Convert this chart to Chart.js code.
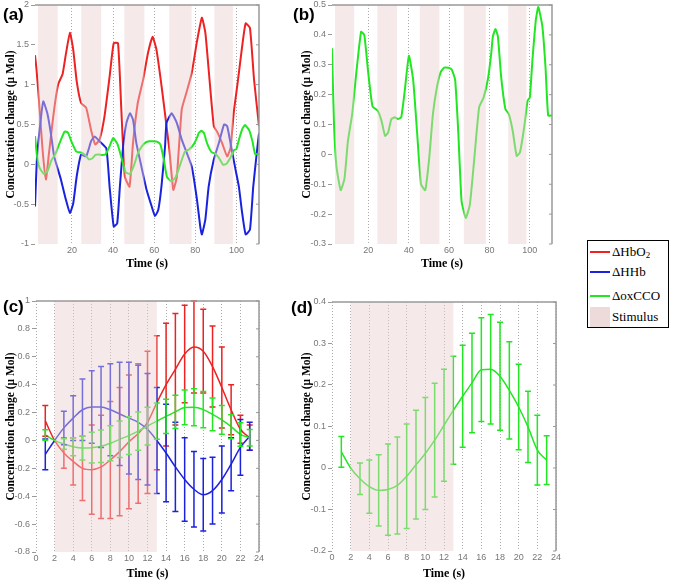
<!DOCTYPE html>
<html>
<head>
<meta charset="utf-8">
<script src="https://cdn.jsdelivr.net/npm/chart.js@4.4.1/dist/chart.umd.min.js"></script>
<style>
  body { margin: 0; background: #fff; width: 675px; height: 582px; position: relative; overflow: hidden; }
  canvas { position: absolute; }
  .lab { position: absolute; font: bold 17px "Liberation Sans", Arial, sans-serif; color: #000; }
  #legend { position: absolute; left: 587px; top: 240px; width: 80px; height: 86px; border: 1px solid #000; background: #fff;
            font: 13px "Liberation Serif", "Times New Roman", serif; color: #000; }
  .row { position: absolute; left: 2px; height: 20px; display: flex; align-items: center; white-space: nowrap; }
  .sw { width: 20px; height: 2px; margin-right: 2px; }
  .row sub { font-size: 9px; position: relative; top: 3px; vertical-align: baseline; }
</style>
</head>
<body>
<canvas id="ca" width="270" height="275" style="left:0;top:0"></canvas>
<canvas id="cb" width="270" height="275" style="left:296px;top:0"></canvas>
<canvas id="cc" width="275" height="292" style="left:0;top:290px"></canvas>
<canvas id="cd" width="275" height="292" style="left:296px;top:290px"></canvas>

<div class="lab" style="left:3px;top:5px">(a)</div>
<div class="lab" style="left:293px;top:5px">(b)</div>
<div class="lab" style="left:3px;top:297px">(c)</div>
<div class="lab" style="left:291px;top:298px">(d)</div>

<div id="legend">
  <div class="row" style="top:1px"><span class="sw" style="background:#ee2222"></span>ΔHbO<sub>2</sub></div>
  <div class="row" style="top:21px"><span class="sw" style="background:#1a22dd"></span>ΔHHb</div>
  <div class="row" style="top:45px"><span class="sw" style="background:#22e622"></span>ΔoxCCO</div>
  <div class="row" style="top:66px"><span class="sw" style="background:#eddada;height:20px"></span>Stimulus</div>
</div>

<script>
// stimulus blocks (s)
const blockStart = [3.5, 24.5, 45.5, 67.3, 89.3];
const blockEnd = [13, 34.2, 55.2, 78.2, 98.3];
const avgStart = [2];
const avgEnd = [13];
const runTicks = [20, 40, 60, 80, 100];

// (a) single subject time courses
const hbo2Time = [2, 2.7, 3.7, 5.7, 7.3, 8.8, 10.5, 12.2, 13.5, 15.4, 17, 19, 20.6, 22.3, 24.4, 26.9, 29.3, 31.3, 33.4, 35.8,
  38.3, 40.3, 42.4, 44, 45.7, 48, 49.7, 52, 54.6, 57, 59.2, 61.1, 63.6, 66, 67.4, 69.3, 71, 73.4, 75.9, 78.3,
  80.8, 83.2, 84.9, 86.5, 89, 90.6, 93, 95.5, 97.1, 98.8, 100.7, 102.8, 104.5, 106.6, 108.6, 111];
const hbo2Values = [1.37, 1.2, 0.88, 0.18, -0.19, 0.14, 0.52, 0.85, 1.02, 1.13, 1.38, 1.65, 1.44, 1.04, 0.77, 0.71, 0.43, 0.25, 0.31, 0.6,
  1.1, 1.52, 1.52, 0.69, -0.15, -0.28, 0.27, 0.77, 1.06, 1.4, 1.6, 1.44, 0.98, 0.48, 0.18, -0.32, -0.16, 0.69, 0.92, 1.15,
  1.54, 1.84, 1.65, 1.19, 0.48, 0.41, 0.27, 0.1, 0.2, 0.67, 1.04, 1.48, 1.77, 1.71, 1.06, 0.48];

const hhbTime = [2, 3, 4.8, 6, 8, 9.7, 11.3, 13, 14.6, 17, 19, 20.6, 22.3, 24.4, 26.9, 29.3, 31, 33.4, 36.7, 38.3,
  40.3, 42, 43.3, 44.9, 46.5, 48.2, 49.7, 51.3, 53.8, 56.3, 58.8, 60.4, 62, 63.6, 65.3, 66, 68.5, 71, 73.4, 75.9,
  78.3, 80.8, 82.4, 83.2, 84.9, 86.5, 89, 91.5, 94, 95.5, 97.1, 99.6, 101.2, 102.8, 104.5, 106.6, 108.2, 109.9, 111];
const hhbValues = [-0.53, 0.1, 0.56, 0.79, 0.64, 0.39, 0.1, -0.05, -0.19, -0.44, -0.61, -0.49, -0.15, 0.12, 0.1, 0.29, 0.35, 0.29, 0.2, -0.28,
  -0.78, -0.74, -0.28, 0.23, 0.52, 0.64, 0.56, 0.27, -0.03, -0.32, -0.53, -0.65, -0.57, -0.26, 0.23, 0.52, 0.64, 0.52, 0.31, 0.14,
  -0.03, -0.44, -0.78, -0.88, -0.69, -0.28, 0.06, 0.27, 0.5, 0.48, 0.27, -0.07, -0.28, -0.61, -0.88, -0.82, -0.28, 0.14, 0.39];

const ccoTime = [2, 3, 4.2, 6.3, 8.2, 9.9, 12, 14, 16.4, 18, 20, 22.1, 24.6, 26.5, 28.3, 29.8, 31.4, 33, 34.7, 36.3,
  38, 40.1, 42.2, 44.2, 46.1, 48.2, 50.2, 52, 54, 55.9, 57.6, 59.7, 61.3, 63, 64.6, 66.2, 68.3, 70.3, 72.4, 74.9,
  77.1, 79.3, 80.9, 81.7, 83, 84.2, 85.8, 87.9, 89.6, 91.5, 93.5, 95.1, 97.2, 98.9, 100, 101.3, 103, 104.2, 106.2, 107.8, 109.1, 111];
const ccoValues = [0.355, 0.1, -0.04, -0.12, -0.08, 0.045, 0.135, 0.27, 0.41, 0.4, 0.27, 0.16, 0.147, 0.113, 0.062, 0.073, 0.118, 0.124, 0.118, 0.124,
  0.21, 0.33, 0.25, 0.07, -0.1, -0.12, -0.01, 0.135, 0.225, 0.276, 0.29, 0.29, 0.284, 0.25, 0.07, -0.157, -0.213, -0.168, -0.022, 0.158,
  0.19, 0.254, 0.338, 0.394, 0.42, 0.394, 0.26, 0.152, 0.135, 0.08, -0.005, 0.006, 0.09, 0.18, 0.19, 0.315, 0.45, 0.493, 0.43, 0.29, 0.13, 0.13];

// (c), (d) block averages with standard error
const avgTime = [1, 2, 3, 4, 5, 6, 7, 8, 9, 10, 11, 12, 13, 14, 15, 16, 17, 18, 19, 20, 21, 22, 23];
const hbo2Mean = [0.14, 0.0, -0.09, -0.15, -0.2, -0.21, -0.19, -0.14, -0.08, -0.01, 0.05, 0.13, 0.27, 0.4, 0.51, 0.62, 0.67, 0.64, 0.53, 0.38, 0.22, 0.08, 0.02];
const hbo2Err = [0.11, 0, 0.11, 0.17, 0.23, 0.32, 0.37, 0.42, 0.46, 0.48, 0.5, 0.51, 0.48, 0.44, 0.4, 0.35, 0.33, 0.3, 0.29, 0.29, 0.18, 0.1, 0.09];
const hhbMean = [-0.1, 0.0, 0.09, 0.16, 0.22, 0.24, 0.24, 0.22, 0.19, 0.16, 0.13, 0.08, 0.0, -0.09, -0.19, -0.28, -0.35, -0.39, -0.36, -0.28, -0.17, -0.05, 0.03];
const hhbErr = [0.11, 0, 0.12, 0.16, 0.22, 0.26, 0.29, 0.33, 0.37, 0.4, 0.41, 0.4, 0.38, 0.35, 0.32, 0.3, 0.27, 0.26, 0.24, 0.24, 0.19, 0.2, 0.1];
const ccoMean = [0.039, 0.0, -0.026, -0.045, -0.054, -0.052, -0.042, -0.02, 0.008, 0.035, 0.067, 0.103, 0.139, 0.173, 0.205, 0.237, 0.238, 0.221, 0.187, 0.147, 0.099, 0.043, 0.019];
const ccoErr = [0.037, 0, 0.038, 0.064, 0.086, 0.11, 0.117, 0.126, 0.131, 0.135, 0.137, 0.135, 0.13, 0.123, 0.12, 0.125, 0.132, 0.13, 0.117, 0.103, 0.086, 0.084, 0.059];

const RED = '#ee2222', BLUE = '#1a22dd', GREEN = '#22e622';
const TICK_FONT = { family: 'Liberation Sans', size: 9 };
const TITLE_FONT = { family: 'Liberation Serif', weight: 'bold', size: 12 };

function pts(xs, ys) { return xs.map((x, i) => ({ x: x, y: ys[i] })); }
function fmt(v) { return String(parseFloat(Number(v).toFixed(3))); }

// error bars, stimulus shading (drawn over the lines) and the top/right frame
function decor(starts, ends, errs) {
  return {
    id: 'decor',
    afterDatasetsDraw(chart) {
      const ctx = chart.ctx, a = chart.chartArea, x = chart.scales.x, y = chart.scales.y;
      ctx.save();
      errs.forEach(s => {
        ctx.strokeStyle = s.color;
        ctx.lineWidth = 1.5;
        avgTime.forEach((t, i) => {
          if (!s.err[i]) return;
          const px = x.getPixelForValue(t);
          const y1 = y.getPixelForValue(s.mean[i] + s.err[i]);
          const y2 = y.getPixelForValue(s.mean[i] - s.err[i]);
          ctx.beginPath();
          ctx.moveTo(px, y1); ctx.lineTo(px, y2);
          ctx.moveTo(px - 3, y1); ctx.lineTo(px + 3, y1);
          ctx.moveTo(px - 3, y2); ctx.lineTo(px + 3, y2);
          ctx.stroke();
        });
      });
      ctx.fillStyle = 'rgba(236,206,206,0.45)';
      starts.forEach((s, i) => {
        const x1 = x.getPixelForValue(s), x2 = x.getPixelForValue(ends[i]);
        ctx.fillRect(x1, a.top, x2 - x1, a.bottom - a.top);
      });
      ctx.strokeStyle = '#999';
      ctx.lineWidth = 1.5;
      ctx.beginPath();
      ctx.moveTo(a.left, a.top); ctx.lineTo(a.right, a.top); ctx.lineTo(a.right, a.bottom);
      ctx.stroke();
      ctx.lineWidth = 1;
      y.ticks.forEach(t => {
        const py = y.getPixelForValue(t.value);
        ctx.beginPath(); ctx.moveTo(a.right, py); ctx.lineTo(a.right - 3, py); ctx.stroke();
      });
      ctx.restore();
    }
  };
}

function panel(id, box, xr, yr, datasets, starts, ends, errs) {
  const el = document.getElementById(id);
  const W = el.width, H = el.height;
  const yWidth = box.l - box.left, xHeight = box.top + H - box.b;
  return new Chart(el, {
    type: 'line',
    data: { datasets: datasets },
    options: {
      responsive: false, animation: false, events: [],
      layout: { padding: { left: 0, top: box.t - box.top, right: box.left + W - box.r, bottom: 0 } },
      plugins: { legend: { display: false }, tooltip: { enabled: false } },
      elements: { point: { radius: 0 } },
      scales: {
        x: {
          type: 'linear', min: xr.min, max: xr.max,
          ticks: { stepSize: xr.step, color: '#777', font: TICK_FONT, padding: 1, maxRotation: 0, autoSkip: false, callback: fmt },
          afterBuildTicks: s => { if (xr.ticks) s.ticks = xr.ticks.map(v => ({ value: v })); },
          grid: { color: '#aaa', lineWidth: 1, drawTicks: false },
          border: { display: false, dash: [1, 2] },
          title: { display: true, text: 'Time (s)', color: '#000', font: TITLE_FONT, padding: { top: 0, bottom: xr.titlePad } },
          afterFit: s => { s.height = xHeight; s.paddingLeft = 0; s.paddingRight = 0; }
        },
        y: {
          min: yr.min, max: yr.max,
          ticks: { stepSize: yr.step, color: '#777', font: TICK_FONT, padding: 2, callback: fmt },
          grid: { drawOnChartArea: false, tickLength: 4, color: '#999' },
          border: { display: false },
          title: { display: true, text: 'Concentration change (μ Mol)', color: '#000',
                   font: { family: 'Liberation Serif', weight: 'bold', size: 11.5 }, padding: { top: 4, bottom: 2 } },
          afterFit: s => { s.width = yWidth; s.paddingTop = 0; s.paddingBottom = 0; }
        }
      }
    },
    plugins: [decor(starts, ends, errs)]
  });
}

function line(data, color, w, smooth) {
  return { data: data, borderColor: color, borderWidth: w, fill: false, pointRadius: 0,
           tension: smooth ? 0.4 : 0.15, cubicInterpolationMode: smooth ? 'monotone' : 'default' };
}

// (a)
panel('ca', { left: 0, top: 0, l: 35, t: 5, r: 259, b: 244 },
  { min: 2, max: 111, step: 20, ticks: runTicks, titlePad: 4 }, { min: -1, max: 2, step: 0.5 },
  [line(pts(ccoTime, ccoValues), GREEN, 2), line(pts(hhbTime, hhbValues), BLUE, 2), line(pts(hbo2Time, hbo2Values), RED, 2)],
  blockStart, blockEnd, []);

// (b)
panel('cb', { left: 296, top: 0, l: 332, t: 5, r: 552, b: 244 },
  { min: 2, max: 111, step: 20, ticks: runTicks, titlePad: 4 }, { min: -0.3, max: 0.5, step: 0.1 },
  [line(pts(ccoTime, ccoValues), GREEN, 2)],
  blockStart, blockEnd, []);

// (c)
panel('cc', { left: 0, top: 290, l: 36, t: 301, r: 259, b: 552 },
  { min: 0, max: 24, step: 2, titlePad: 1 }, { min: -0.8, max: 1, step: 0.2 },
  [line(pts(avgTime, ccoMean), GREEN, 1.5, true), line(pts(avgTime, hhbMean), BLUE, 1.5, true), line(pts(avgTime, hbo2Mean), RED, 1.5, true)],
  avgStart, avgEnd,
  [{ mean: hbo2Mean, err: hbo2Err, color: RED }, { mean: hhbMean, err: hhbErr, color: BLUE }, { mean: ccoMean, err: ccoErr, color: GREEN }]);

// (d)
panel('cd', { left: 296, top: 290, l: 332, t: 302, r: 556, b: 551 },
  { min: 0, max: 24, step: 2, titlePad: 1 }, { min: -0.2, max: 0.4, step: 0.1 },
  [line(pts(avgTime, ccoMean), GREEN, 1.5, true)],
  avgStart, avgEnd,
  [{ mean: ccoMean, err: ccoErr, color: GREEN }]);
</script>
</body>
</html>
